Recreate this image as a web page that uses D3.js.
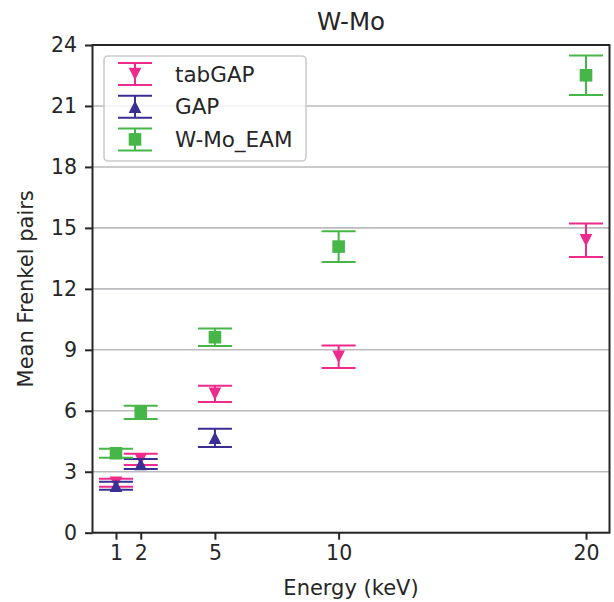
<!DOCTYPE html>
<html>
<head>
<meta charset="utf-8">
<script src="https://cdn.jsdelivr.net/npm/d3@7"></script>
<style>
body { margin: 0; background: #fff; }
text { font-family: "DejaVu Sans", sans-serif; fill: #262626; }
</style>
</head>
<body>
<script>
// energies (keV) and mean Frenkel pairs with error bars
var energies = [1, 2, 5, 10, 20];
var tabgapMean = [2.46, 3.61, 6.83, 8.66, 14.39];
var tabgapErr = [0.20, 0.28, 0.40, 0.55, 0.82];
var gapEnergies = [1, 2, 5];
var gapMean = [2.31, 3.38, 4.67];
var gapErr = [0.20, 0.25, 0.45];
var eamMean = [3.91, 5.92, 9.62, 14.08, 22.51];
var eamErr = [0.22, 0.33, 0.43, 0.76, 0.97];
var xTicks = [1, 2, 5, 10, 20];
var yTicks = [0, 3, 6, 9, 12, 15, 18, 21, 24];

var width = 614, height = 602;
var margin = {left: 92.5, right: 4.5, top: 45, bottom: 69.3};

var svg = d3.select("body").append("svg")
    .attr("width", width)
    .attr("height", height);

var x = d3.scaleLinear().domain([0.05, 20.95]).range([margin.left, width - margin.right]);
var y = d3.scaleLinear().domain([0, 24]).range([height - margin.bottom, margin.top]);

var series = [
    {name: "tabGAP", color: "#ee2a8c", shape: "down", xs: energies, mean: tabgapMean, err: tabgapErr},
    {name: "GAP", color: "#3a2e92", shape: "up", xs: gapEnergies, mean: gapMean, err: gapErr},
    {name: "W-Mo_EAM", color: "#46b649", shape: "square", xs: energies, mean: eamMean, err: eamErr}
];

// grid
svg.append("g")
    .selectAll("line")
    .data(yTicks)
    .enter().append("line")
    .attr("x1", x.range()[0])
    .attr("x2", x.range()[1])
    .attr("y1", function (d) { return y(d); })
    .attr("y2", function (d) { return y(d); })
    .attr("stroke", "#bbbbbf")
    .attr("stroke-width", 1.6);

function markerPath(shape, s) {
    if (shape == "down") return "M0," + s + "L" + (-s) + "," + (-s) + "L" + s + "," + (-s) + "Z";
    if (shape == "up") return "M0," + (-s) + "L" + (-s) + "," + s + "L" + s + "," + s + "Z";
    return "M" + (-s) + "," + (-s) + "H" + s + "V" + s + "H" + (-s) + "Z";
}

var cap = 17;

series.forEach(function (ser) {
    var pts = ser.xs.map(function (e, i) {
        return {x: e, m: ser.mean[i], e: ser.err[i]};
    });
    var g = svg.append("g").attr("class", "series");
    var eb = g.selectAll(".eb").data(pts).enter().append("g");
    eb.append("line")
        .attr("x1", function (d) { return x(d.x); })
        .attr("x2", function (d) { return x(d.x); })
        .attr("y1", function (d) { return y(d.m - d.e); })
        .attr("y2", function (d) { return y(d.m + d.e); })
        .attr("stroke", ser.color).attr("stroke-width", 2);
    [-1, 1].forEach(function (sgn) {
        eb.append("line")
            .attr("x1", function (d) { return x(d.x) - cap; })
            .attr("x2", function (d) { return x(d.x) + cap; })
            .attr("y1", function (d) { return y(d.m + sgn * d.e); })
            .attr("y2", function (d) { return y(d.m + sgn * d.e); })
            .attr("stroke", ser.color).attr("stroke-width", 2);
    });
    eb.append("path")
        .attr("d", markerPath(ser.shape, 6.3))
        .attr("transform", function (d) { return "translate(" + x(d.x) + "," + y(d.m) + ")"; })
        .attr("fill", ser.color);
});

// axes
var xAxis = svg.append("g")
    .attr("transform", "translate(0," + y(0) + ")")
    .call(d3.axisBottom(x).tickValues(xTicks).tickSize(7).tickPadding(6).tickFormat(d3.format("d")));
var yAxis = svg.append("g")
    .attr("transform", "translate(" + x.range()[0] + ",0)")
    .call(d3.axisLeft(y).tickValues(yTicks).tickSize(7.5).tickPadding(8).tickFormat(d3.format("d")));

[xAxis, yAxis].forEach(function (a) {
    a.select(".domain").remove();
    a.selectAll(".tick line").attr("stroke", "#262626").attr("stroke-width", 2);
    a.selectAll(".tick text").attr("font-size", 20.5).attr("font-family", "DejaVu Sans").attr("fill", "#262626");
});

// spines
svg.append("rect")
    .attr("x", x.range()[0])
    .attr("y", y.range()[1])
    .attr("width", x.range()[1] - x.range()[0])
    .attr("height", y.range()[0] - y.range()[1])
    .attr("fill", "none")
    .attr("stroke", "#262626")
    .attr("stroke-width", 2);

// labels
svg.append("text")
    .attr("x", (x.range()[0] + x.range()[1]) / 2)
    .attr("y", 30)
    .attr("text-anchor", "middle")
    .attr("font-size", 24.5)
    .text("W-Mo");

svg.append("text")
    .attr("x", (x.range()[0] + x.range()[1]) / 2)
    .attr("y", 595)
    .attr("text-anchor", "middle")
    .attr("font-size", 21)
    .text("Energy (keV)");

svg.append("text")
    .attr("transform", "translate(33," + ((y.range()[0] + y.range()[1]) / 2) + ") rotate(-90)")
    .attr("text-anchor", "middle")
    .attr("font-size", 21)
    .text("Mean Frenkel pairs");

// legend
var legend = svg.append("g").attr("transform", "translate(104,56)");
legend.append("rect")
    .attr("width", 202).attr("height", 105)
    .attr("rx", 4)
    .attr("fill", "#fff").attr("fill-opacity", 0.8)
    .attr("stroke", "#cccccc").attr("stroke-width", 1.6);

var item = legend.selectAll(".item")
    .data(series)
    .enter().append("g")
    .attr("transform", function (d, i) { return "translate(0," + (18 + i * 32.7) + ")"; });
item.append("line")
    .attr("x1", 31).attr("x2", 31).attr("y1", -11).attr("y2", 11)
    .attr("stroke", function (d) { return d.color; }).attr("stroke-width", 2);
[-11, 11].forEach(function (yy) {
    item.append("line")
        .attr("x1", 14).attr("x2", 48).attr("y1", yy).attr("y2", yy)
        .attr("stroke", function (d) { return d.color; }).attr("stroke-width", 2);
});
item.append("path")
    .attr("d", function (d) { return markerPath(d.shape, 6.3); })
    .attr("transform", "translate(31,0)")
    .attr("fill", function (d) { return d.color; });
item.append("text")
    .attr("x", 71)
    .attr("dy", "0.36em")
    .attr("font-size", 21.5)
    .text(function (d) { return d.name; });
</script>
</body>
</html>
